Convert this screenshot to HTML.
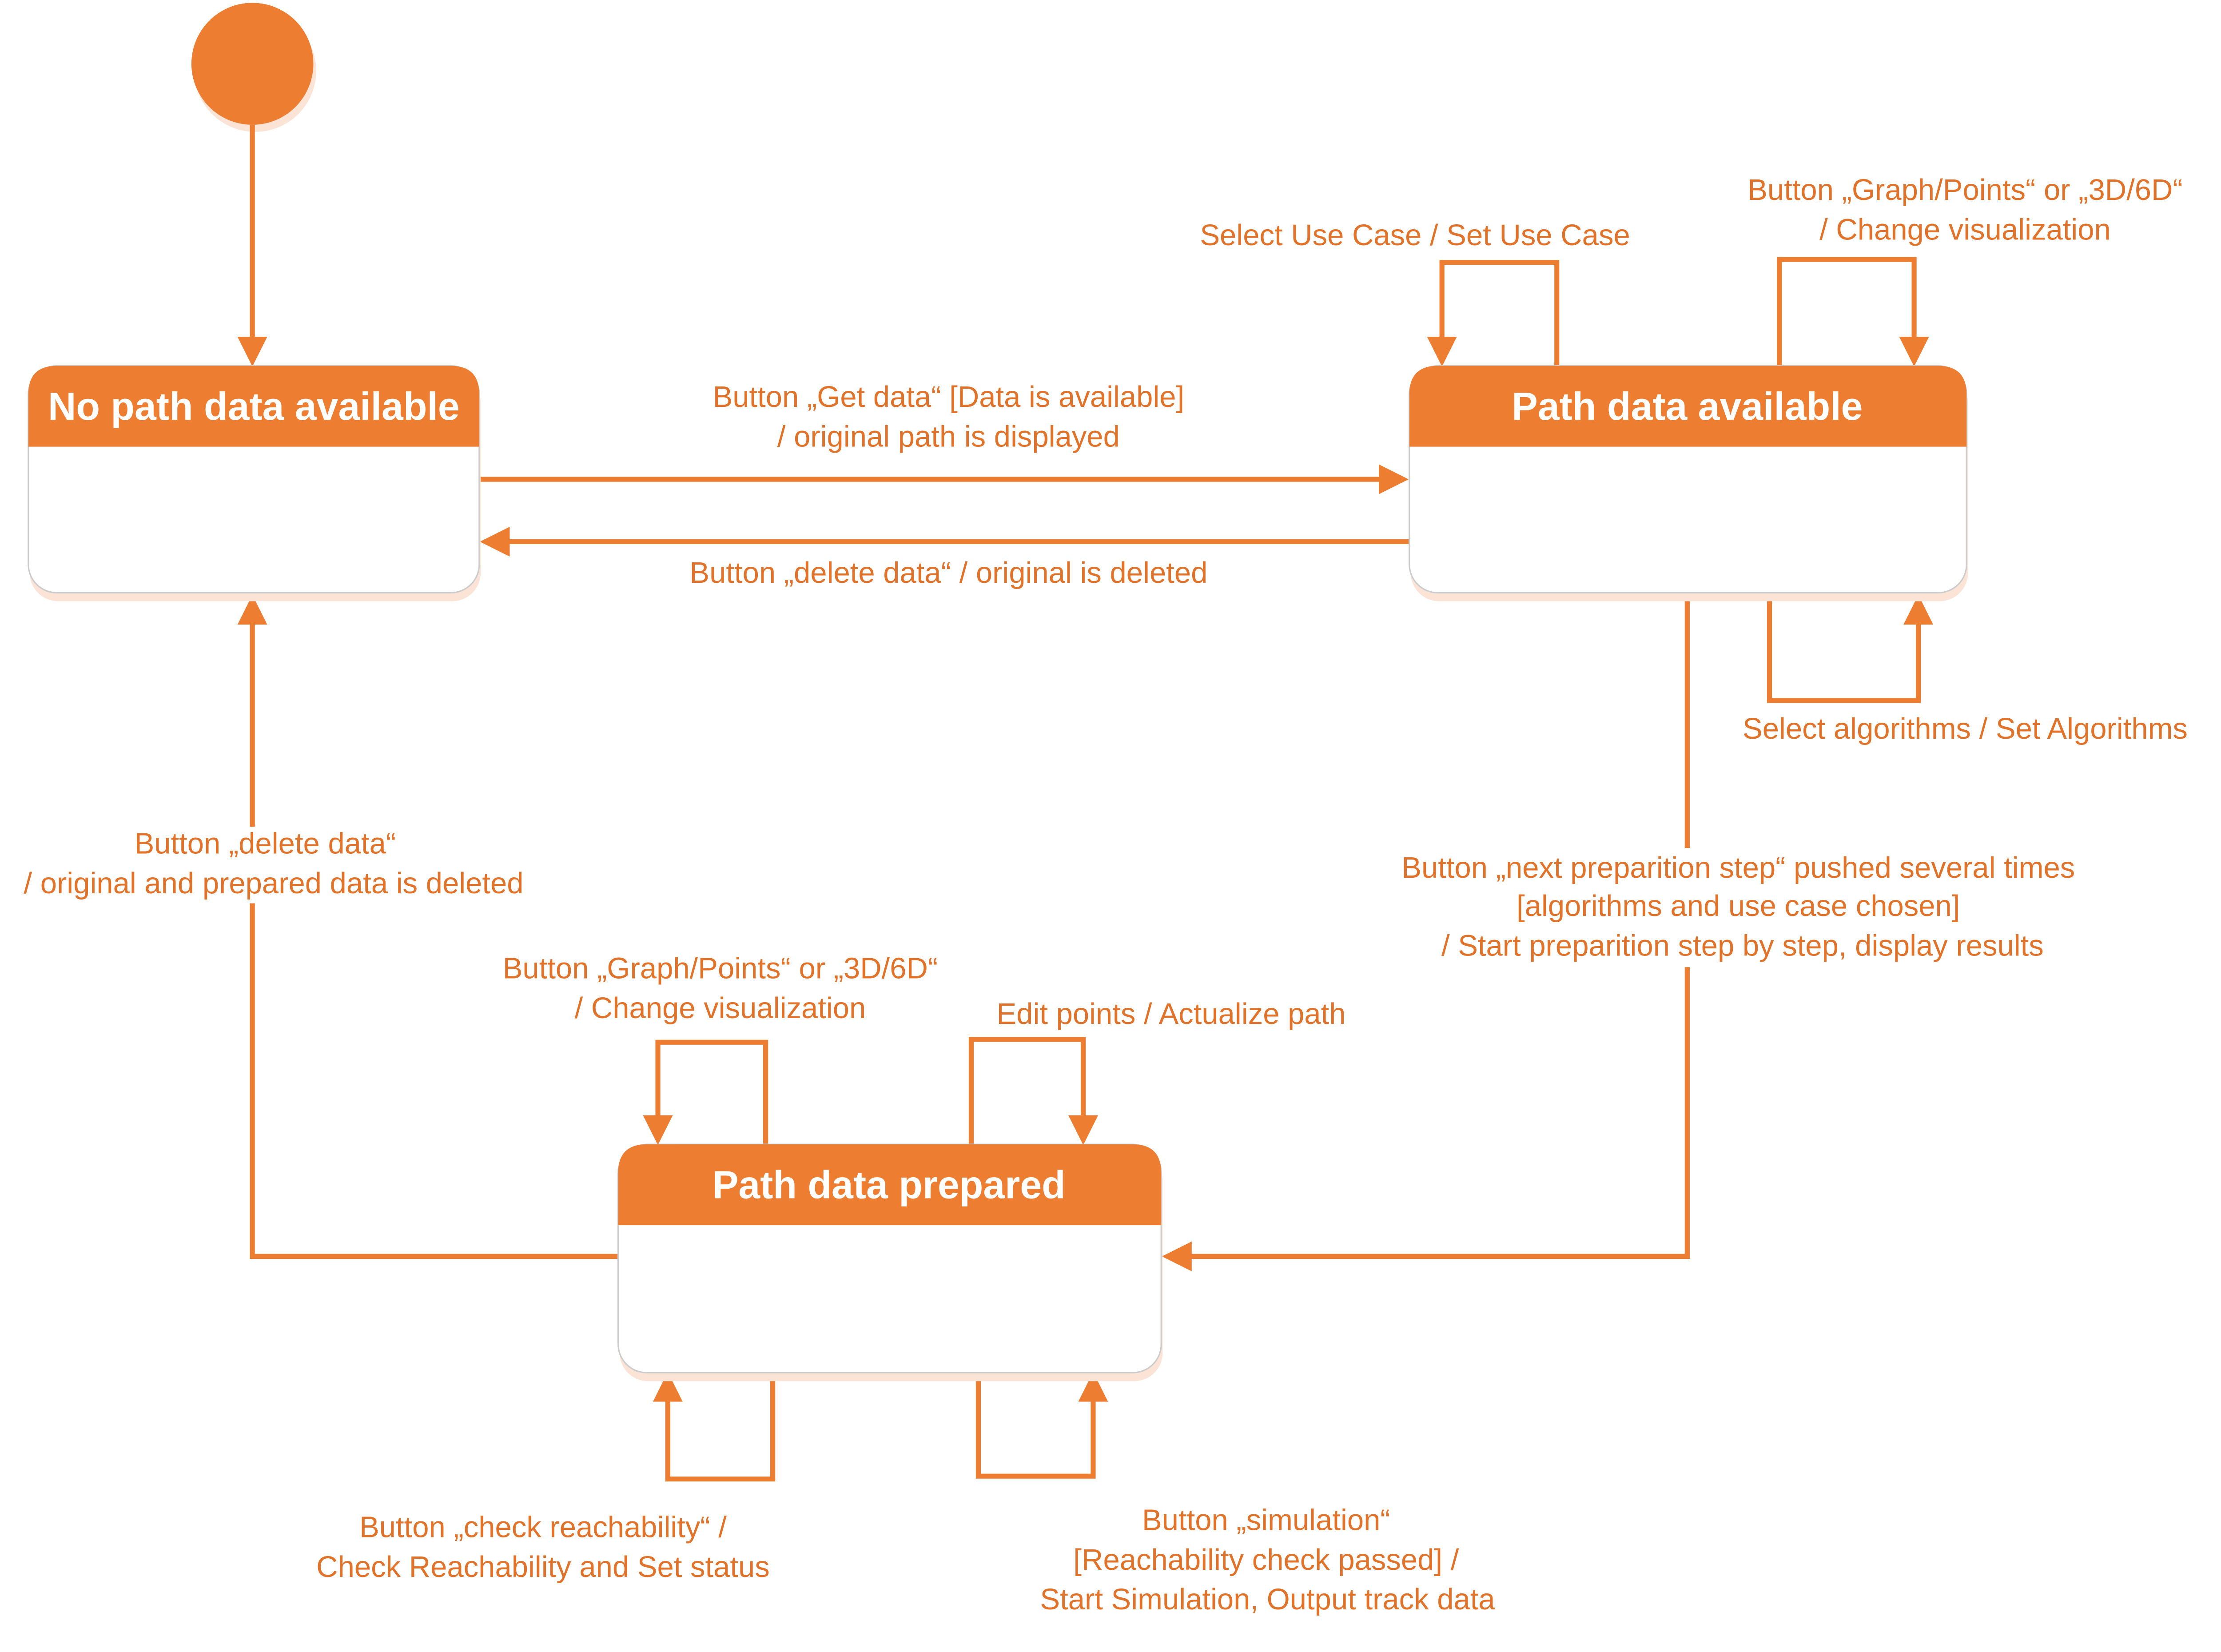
<!DOCTYPE html>
<html><head><meta charset="utf-8"><style>
html,body{margin:0;padding:0;background:#fff}
svg{display:block}
text{font-family:"Liberation Sans",sans-serif;fill:#E0722A;font-size:21px}
.h{fill:#fff;font-weight:bold;font-size:27.5px}
</style></head><body>
<svg width="5056" height="3719" viewBox="0 0 1584 1165" preserveAspectRatio="none">
<defs>
<marker id="a" markerWidth="6" markerHeight="6" refX="5" refY="3" orient="auto" markerUnits="strokeWidth"><path d="M0,0 L6,3 L0,6 z" fill="#ED7D31"/></marker>
</defs>
<circle cx="180" cy="50" r="43" fill="#FBE3D6"/>
<circle cx="178" cy="45" r="43" fill="#ED7D31"/>
<g fill="none" stroke="#ED7D31" stroke-width="3.5">
<path d="M178 88 V255" marker-end="url(#a)"/>
<path d="M338 338 H990" marker-end="url(#a)"/>
<path d="M994 382 H342" marker-end="url(#a)"/>
<path d="M436 886 H178 V637"/>
<path d="M178 583 V423" marker-end="url(#a)"/>
<path d="M1190 418 V598"/>
<path d="M1190 682 V886 H823" marker-end="url(#a)"/>
<path d="M1098 258 V185 H1017 V255" marker-end="url(#a)"/>
<path d="M1255 258 V183 H1350 V255" marker-end="url(#a)"/>
<path d="M1248 420 V494 H1353 V423" marker-end="url(#a)"/>
<path d="M540 807 V735 H464 V804" marker-end="url(#a)"/>
<path d="M685 807 V733 H764 V804" marker-end="url(#a)"/>
<path d="M545 966 V1043 H471 V971" marker-end="url(#a)"/>
<path d="M690 966 V1041 H771 V971" marker-end="url(#a)"/>
</g>
<g>
<rect x="21" y="264" width="318" height="160" rx="20" fill="#FBE3D6"/>
<rect x="20" y="258" width="318" height="160" rx="20" fill="#fff" stroke="#ccc" stroke-width="1"/>
<path d="M20 315 V278 Q20 258 40 258 H318 Q338 258 338 278 V315 Z" fill="#ED7D31"/>
<text class="h" x="179" y="296" text-anchor="middle">No path data available</text>

<rect x="995" y="264" width="393" height="160" rx="20" fill="#FBE3D6"/>
<rect x="994" y="258" width="393" height="160" rx="20" fill="#fff" stroke="#ccc" stroke-width="1"/>
<path d="M994 315 V278 Q994 258 1014 258 H1367 Q1387 258 1387 278 V315 Z" fill="#ED7D31"/>
<text class="h" x="1190" y="296" text-anchor="middle">Path data available</text>

<rect x="437" y="813" width="383" height="161" rx="20" fill="#FBE3D6"/>
<rect x="436" y="807" width="383" height="161" rx="20" fill="#fff" stroke="#ccc" stroke-width="1"/>
<path d="M436 864 V827 Q436 807 456 807 H799 Q819 807 819 827 V864 Z" fill="#ED7D31"/>
<text class="h" x="627" y="845" text-anchor="middle">Path data prepared</text>
</g>
<g text-anchor="middle">
<text x="669" y="287">Button „Get data“ [Data is available]</text>
<text x="669" y="315">/ original path is displayed</text>
<text x="669" y="411">Button „delete data“ /  original is deleted</text>
<text x="998" y="173">Select Use Case / Set Use Case</text>
<text x="1386" y="141">Button „Graph/Points“ or „3D/6D“</text>
<text x="1386" y="169">/ Change visualization</text>
<text x="1386" y="521">Select algorithms / Set Algorithms</text>
<text x="1226" y="619">Button „next preparition step“ pushed several times</text>
<text x="1226" y="646">[algorithms and use case chosen]</text>
<text x="1229" y="674">/ Start preparition step by step, display results</text>
<text x="187" y="602">Button „delete data“</text>
<text x="193" y="630">/ original and prepared data is deleted</text>
<text x="508" y="690">Button „Graph/Points“ or „3D/6D“</text>
<text x="508" y="718">/ Change visualization</text>
<text x="826" y="722">Edit points / Actualize path</text>
<text x="383" y="1084">Button „check reachability“ /</text>
<text x="383" y="1112">Check Reachability and Set status</text>
<text x="893" y="1079">Button „simulation“</text>
<text x="893" y="1107">[Reachability check passed] /</text>
<text x="894" y="1135">Start Simulation, Output track data</text>
</g>
</svg>
</body></html>
